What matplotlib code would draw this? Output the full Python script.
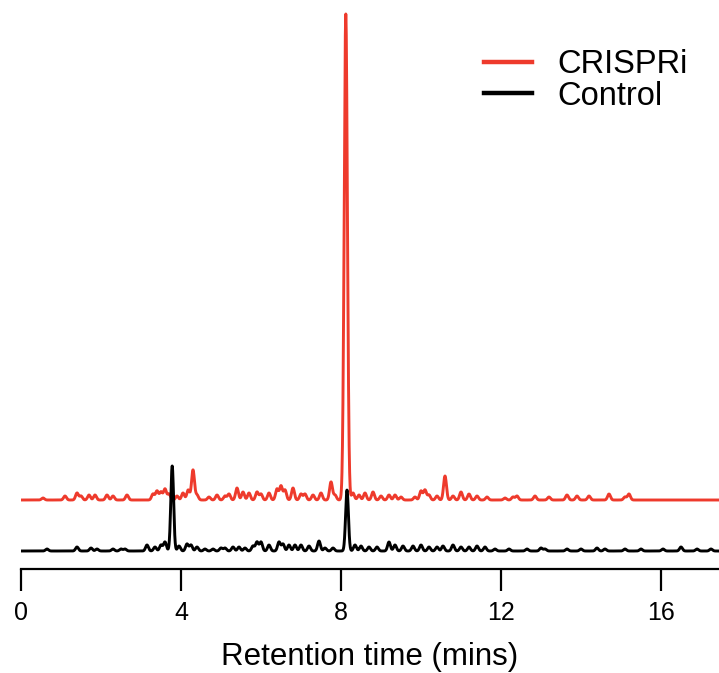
import numpy as np
import matplotlib
matplotlib.use("Agg")
import matplotlib.pyplot as plt
from matplotlib.lines import Line2D

plt.rcParams['font.family'] = ['Liberation Sans', 'DejaVu Sans']

# ---- data: peak tables (retention time, intensity) ----
crispri_rt = [0.55, 1.1, 1.4, 1.5, 1.7, 1.85, 2.15, 2.3, 2.65, 3.3, 3.4, 3.5, 3.6, 3.7,
              3.9, 4.05, 4.18, 4.3, 4.4, 4.7, 4.9, 5.1, 5.2, 5.4, 5.55, 5.7, 5.9, 6.0,
              6.2, 6.4, 6.5, 6.6, 6.8, 7.0, 7.1, 7.3, 7.5, 7.75, 7.85, 8.12, 8.3, 8.45,
              8.6, 8.8, 9.0, 9.2, 9.35, 9.5, 9.85, 10.0, 10.1, 10.2, 10.4, 10.6, 10.8,
              11.0, 11.2, 11.4, 11.65, 12.1, 12.3, 12.4, 12.85, 13.2, 13.65, 13.9, 14.2,
              14.7, 15.1, 15.2]
crispri_int = [2, 4, 7, 4, 5, 5, 5, 4, 5, 6, 9, 8, 11, 6,
               4, 7, 10, 30, 5, 3, 5, 4, 6, 12, 8, 7, 8, 6,
               7, 11, 14, 10, 12, 6, 6, 5, 7, 18, 5, 486, 7, 5,
               7, 8, 4, 5, 5, 3, 3, 9, 10, 5, 4, 24, 4,
               8, 6, 4, 3, 2, 3, 4, 4, 3, 5, 4, 4,
               6, 3, 6]

control_rt = [0.65, 1.4, 1.75, 1.9, 2.3, 2.5, 2.6, 3.15, 3.35, 3.5, 3.6, 3.78, 3.95, 4.15,
              4.25, 4.4, 4.6, 4.8, 5.0, 5.1, 5.3, 5.45, 5.6, 5.8, 5.9, 6.0, 6.2, 6.45,
              6.55, 6.7, 6.85, 7.0, 7.2, 7.45, 7.6, 7.8, 8.15, 8.35, 8.5, 8.7, 8.9, 9.2,
              9.35, 9.55, 9.8, 10.0, 10.2, 10.4, 10.55, 10.8, 11.0, 11.2, 11.4, 11.6,
              11.85, 12.2, 12.65, 13.0, 13.1, 13.65, 14.0, 14.4, 14.6, 15.1, 15.5, 16.05,
              16.5, 16.9, 17.25]
control_int = [2, 4, 3, 2, 2, 2, 2, 6, 4, 6, 9, 85, 5, 7,
               6, 4, 2, 2, 3, 3, 4, 4, 3, 5, 9, 9, 6, 9,
               7, 6, 6, 6, 5, 10, 3, 3, 61, 6, 5, 4, 4, 9,
               6, 5, 5, 6, 4, 4, 5, 6, 4, 4, 5, 4,
               2, 2, 2, 3, 2, 2, 2, 3, 2, 2, 2, 2,
               4, 2, 2]

crispri_offset = 51
x_ticks = [0, 4, 8, 12, 16]
labels = ["CRISPRi", "Control"]

# ---- figure ----
W, H = 719, 673
fig = plt.figure(figsize=(W / 100, H / 100), dpi=100)
ax = fig.add_axes([21 / W, (H - 569) / H, 698 / W, 569 / H])

t = np.arange(0, 17.5, 0.004)


def trace(rts, ints, big_sigma):
    y = np.zeros_like(t)
    for r, h in zip(rts, ints):
        s = big_sigma if h > 40 else 0.036
        y += h * np.exp(-0.5 * ((t - r) / s) ** 2)
    return y


red = trace(crispri_rt, crispri_int, 0.04) + crispri_offset
black = trace(control_rt, control_int, 0.035)

ax.plot(t, red, color="#ee3a2c", lw=2.1, solid_joinstyle="round")
ax.plot(t, black, color="black", lw=2.1, solid_joinstyle="round")

ax.set_xlim(0, 17.45)
ax.set_ylim(-18, 551)

for s in ["left", "top", "right"]:
    ax.spines[s].set_visible(False)
ax.spines["bottom"].set_linewidth(1.6)
ax.set_yticks([])
ax.set_xticks(x_ticks)
ax.set_xticklabels([str(v) for v in x_ticks])
ax.tick_params(axis="x", direction="out", length=16, width=1.6, pad=7, labelsize=18)
ax.set_xlabel("Retention time (mins)", fontsize=22.5, labelpad=12)

handles = [Line2D([], [], color="#ee3a2c", lw=3.2), Line2D([], [], color="black", lw=3.2)]
leg = ax.legend(handles, labels, loc="upper left", bbox_to_anchor=(0.663, 1 - 49 / 569),
                frameon=False, fontsize=23.5, handlelength=1.47, handletextpad=0.8,
                labelspacing=0.02, borderpad=0, borderaxespad=0)

fig.savefig("out.png", dpi=100)
